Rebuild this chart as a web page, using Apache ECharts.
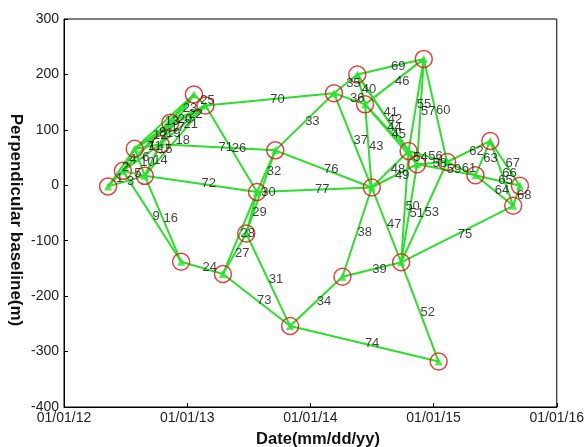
<!DOCTYPE html>
<html>
<head>
<meta charset="utf-8">
<script src="https://cdn.jsdelivr.net/npm/echarts@6/dist/echarts.min.js"></script>
<style>
html,body{margin:0;padding:0;background:#fff;}
#chart{width:587px;height:447px;}
</style>
</head>
<body>
<div id="chart"></div>
<script>
// Acquisition dates (nodes) and perpendicular baselines (m)
const nodeDates = [
  '2012-05-11','2012-06-24','2012-07-29','2012-08-28','2012-10-14','2012-11-12',
  '2012-12-14','2013-01-21','2013-02-24','2013-04-17','2013-06-25','2013-07-27',
  '2013-09-19','2013-11-02','2014-03-12','2014-04-06','2014-05-20','2014-06-12',
  '2014-07-02','2014-09-27','2014-10-19','2014-11-13','2014-12-03','2015-01-16',
  '2015-02-10','2015-05-05','2015-06-18','2015-08-25','2015-09-14'
];
const nodeBaselines = [
  -2, 26, 66, 17, 74, 113,
  -138, 164, 144, -160, -87, -12,
  63, -254, 166, -165, 200, 146,
  -4, -139, 62, 38, 228, -318,
  42, 18, 80, -37, -1
];
// Interferometric pairs (edges): node indices
const edgeFrom = [0,0,0,1,1,1,1,1,1,2,2,2,2,3,3,3,2,3,4,4,4,5,5,6,7,8,9,9,10,10,10,11,12,13,14,14,14,15,15,16,16,16,17,17,17,17,18,18,18,19,19,19,19,20,20,20,21,21,21,22,24,24,25,25,25,26,26,27,16,8,4,3,9,13,19,12,11];
const edgeTo   = [1,2,3,2,3,4,5,7,6,3,4,5,7,4,5,6,8,8,5,7,8,8,7,9,8,11,10,11,11,12,13,12,14,15,16,17,18,18,19,17,20,21,18,20,21,22,19,20,21,20,21,23,24,21,22,24,22,24,25,24,25,26,26,27,28,27,28,28,22,14,12,11,13,23,27,18,18];
const edgeLabels = [1,2,3,4,5,6,7,8,9,10,11,12,13,14,15,16,17,18,19,20,21,22,23,24,25,26,27,28,29,30,31,32,33,34,35,36,37,38,39,40,41,42,43,44,45,46,47,48,49,50,51,52,53,54,55,56,57,58,59,60,61,62,63,64,65,66,67,68,69,70,71,72,73,74,75,76,77];
const xTickYears = [2012, 2013, 2014, 2015, 2016];

function decYear(s){
  const p = s.split('-').map(Number);
  const t = Date.UTC(p[0], p[1]-1, p[2]);
  const t0 = Date.UTC(p[0],0,1), t1 = Date.UTC(p[0]+1,0,1);
  return p[0] + (t - t0)/(t1 - t0);
}
const nodes = nodeDates.map((d,i)=>[decYear(d), nodeBaselines[i]]);
const lineData = edgeFrom.map((a,i)=>({coords:[nodes[a], nodes[edgeTo[i]]]}));
const labelData = edgeFrom.map((a,i)=>{
  const b = edgeTo[i];
  return {name: String(edgeLabels[i]), value: [(nodes[a][0]+nodes[b][0])/2, (nodes[a][1]+nodes[b][1])/2]};
});

const GREEN = '#2be02b';
const RED = '#e01010';
const FONT = 'Liberation Sans, Arial, sans-serif';

const chart = echarts.init(document.getElementById('chart'), null, {renderer:'canvas'});
chart.setOption({
  animation:false,
  backgroundColor:'#fff',
  grid:{left:64, top:19, width:494, height:388, show:true, borderColor:'#000', borderWidth:1, backgroundColor:'transparent'},
  xAxis:{
    type:'value', min:xTickYears[0], max:xTickYears[xTickYears.length-1], interval:1,
    axisLine:{show:true, onZero:false, lineStyle:{color:'#000', width:1}},
    axisTick:{show:true, inside:true, length:4, lineStyle:{color:'#000'}},
    splitLine:{show:false},
    axisLabel:{margin:4, fontSize:14, color:'#222', fontFamily:FONT,
      formatter:v=>'01/01/'+String(Math.round(v)).slice(2)}
  },
  yAxis:{
    type:'value', min:-400, max:300, interval:100,
    axisLine:{show:true, onZero:false, lineStyle:{color:'#000', width:1}},
    axisTick:{show:true, inside:true, length:4, lineStyle:{color:'#000'}},
    splitLine:{show:false},
    axisLabel:{margin:5, fontSize:14, color:'#222', fontFamily:FONT}
  },
  graphic:[
    {type:'text', x:318, y:439, style:{text:'Date(mm/dd/yy)', font:'bold 16.5px '+FONT, fill:'#111', textAlign:'center', textVerticalAlign:'middle'}},
    {type:'text', x:16, y:220, rotation:-Math.PI/2, style:{text:'Perpendicular baseline(m)', font:'bold 17px '+FONT, fill:'#111', textAlign:'center', textVerticalAlign:'middle'}}
  ],
  series:[
    {type:'lines', coordinateSystem:'cartesian2d', silent:true, z:2,
      lineStyle:{color:GREEN, width:2, opacity:1}, data:lineData},
    {type:'scatter', silent:true, z:3, symbol:'triangle', symbolSize:8,
      itemStyle:{color:GREEN}, data:nodes},
    {type:'scatter', silent:true, z:4, symbol:'circle', symbolSize:17,
      itemStyle:{color:'rgba(0,0,0,0)', borderColor:RED, borderWidth:1.5}, data:nodes},
    {type:'scatter', silent:true, z:5, symbolSize:1,
      itemStyle:{color:'rgba(0,0,0,0)'},
      label:{show:true, position:'right', distance:0, formatter:p=>p.name,
        fontSize:13, color:'#111', fontFamily:FONT},
      data:labelData}
  ]
});
</script>
</body>
</html>
